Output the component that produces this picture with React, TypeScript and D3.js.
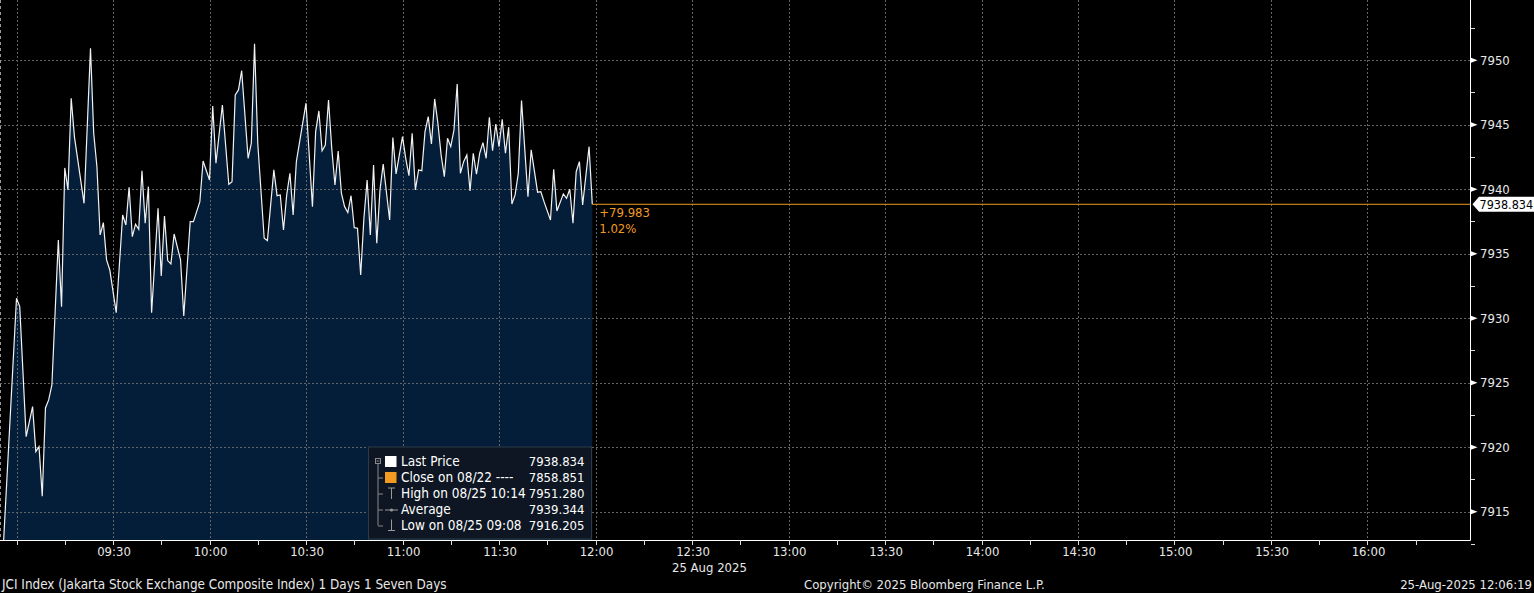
import React from "react";
import * as d3 from "d3";

// ---- data ----
const times = [
  "08:56", "09:00", "09:01", "09:03", "09:05", "09:06", "09:07", "09:08", "09:09", "09:10",
  "09:11", "09:13", "09:14", "09:15", "09:16", "09:17", "09:18", "09:21", "09:23", "09:24",
  "09:25", "09:26", "09:27", "09:28", "09:29", "09:31", "09:33", "09:34", "09:35", "09:36",
  "09:37", "09:38", "09:39", "09:40", "09:41", "09:42", "09:44", "09:45", "09:46", "09:47",
  "09:48", "09:49", "09:51", "09:52", "09:54", "09:55", "09:57", "09:58", "10:00", "10:01",
  "10:02", "10:04", "10:06", "10:07", "10:08", "10:09", "10:10", "10:12", "10:13", "10:14",
  "10:15", "10:17", "10:18", "10:20", "10:21", "10:22", "10:23", "10:24", "10:25", "10:26",
  "10:27", "10:30", "10:32", "10:33", "10:34", "10:35", "10:36", "10:37", "10:38", "10:39",
  "10:40", "10:41", "10:42", "10:43", "10:44", "10:45", "10:46", "10:47", "10:48", "10:49",
  "10:50", "10:51", "10:52", "10:53", "10:54", "10:56", "10:57", "10:58", "11:00", "11:01",
  "11:02", "11:03", "11:04", "11:05", "11:06", "11:07", "11:08", "11:09", "11:10", "11:11",
  "11:12", "11:13", "11:14", "11:15", "11:16", "11:17", "11:18", "11:19", "11:20", "11:21",
  "11:22", "11:23", "11:24", "11:25", "11:26", "11:27", "11:28", "11:29", "11:30", "11:31",
  "11:32", "11:33", "11:34", "11:35", "11:36", "11:37", "11:39", "11:40", "11:42", "11:43",
  "11:44", "11:46", "11:47", "11:48", "11:50", "11:51", "11:52", "11:53", "11:54", "11:55",
  "11:56", "11:58", "11:59",
];
const prices = [
  7912.8, 7931.55, 7930.9, 7920.82, 7923.15, 7919.66, 7920.05, 7916.21, 7923.05, 7923.67,
  7924.83, 7936.07, 7930.9, 7941.65, 7939.95, 7947.05, 7944.08, 7938.91, 7950.93, 7944.34,
  7941.75, 7936.46, 7937.41, 7934.52, 7933.74, 7930.43, 7938.01, 7937.23, 7940.16, 7936.33,
  7937.29, 7936.9, 7941.44, 7937.36, 7940.2, 7930.43, 7938.53, 7933.28, 7937.93, 7934.47,
  7934.21, 7936.53, 7934.52, 7930.18, 7937.49, 7937.49, 7939.04, 7942.19, 7940.72, 7946.46,
  7942.02, 7946.53, 7940.39, 7940.59, 7947.31, 7947.7, 7949.19, 7942.4, 7943.57, 7951.28,
  7943.57, 7936.2, 7936.02, 7941.5, 7939.5, 7939.56, 7936.84, 7939.56, 7941.24, 7938.01,
  7942.14, 7946.67, 7938.65, 7944.47, 7946.07, 7942.99, 7943.43, 7946.92, 7943.18, 7940.33,
  7942.97, 7939.69, 7938.65, 7938.19, 7939.5, 7937.02, 7936.98, 7933.36, 7937.75, 7940.72,
  7936.46, 7941.88, 7935.81, 7939.95, 7941.96, 7937.62, 7944.0, 7941.19, 7944.08, 7942.4,
  7941.05, 7944.34, 7939.95, 7941.5, 7941.44, 7944.47, 7945.63, 7943.51, 7947.0, 7945.12,
  7942.66, 7940.98, 7943.95, 7943.3, 7944.6, 7948.16, 7941.24, 7942.14, 7942.66, 7939.87,
  7942.79, 7941.16, 7942.79, 7943.61, 7942.4, 7945.58, 7942.99, 7945.06, 7943.3, 7945.43,
  7942.79, 7944.81, 7938.86, 7939.56, 7941.24, 7946.87, 7939.43, 7943.05, 7939.77, 7939.81,
  7939.04, 7937.62, 7941.55, 7938.32, 7939.64, 7939.3, 7940.0, 7937.36, 7941.36, 7942.14,
  7938.78, 7943.3, 7938.834,
];

const yTickValues = [7915, 7920, 7925, 7930, 7935, 7940, 7945, 7950];
const xLabelTimes = [
  "09:30", "10:00", "10:30", "11:00", "11:30", "12:00", "12:30",
  "13:00", "13:30", "14:00", "14:30", "15:00", "15:30", "16:00",
];
const xDomainTimes = ["08:54:52", "16:31:52"];
const yDomainValues = [7912.81, 7954.67];
const lastPrice = 7938.834;
const lastPriceLabel = "7938.834";
const netChangeLabel = "+79.983";
const pctChangeLabel = "1.02%";
const dateLabel = "25 Aug 2025";
const dateLabelAnchorTime = "12:30";

const legendLabels = [
  "Last Price",
  "Close on 08/22 ----",
  "High on 08/25 10:14",
  "Average",
  "Low on 08/25 09:08",
];
const legendValues = ["7938.834", "7858.851", "7951.280", "7939.344", "7916.205"];

const footerLeft = "JCI Index (Jakarta Stock Exchange Composite Index) 1 Days 1 Seven Days";
const footerCenter = "Copyright\u00A9 2025 Bloomberg Finance L.P.";
const footerRight = "25-Aug-2025 12:06:19";

// ---- layout ----
const W = 1534;
const H = 593;
const PLOT_L = 0;
const PLOT_R = 1470;
const PLOT_T = 0;
const PLOT_B = 540;

const FONT = "'DejaVu Sans Condensed', 'DejaVu Sans', sans-serif";
const TXT = "#e8e8e8";
const ORANGE = "#f39a22";
const GRID = "#6e6e6e";
const NAVY = "#041e3a";
const FS = 13;

const parseHM = d3.timeParse("%H:%M");
const parseHMS = d3.timeParse("%H:%M:%S");

export default function App() {
  const x = d3
    .scaleTime()
    .domain(xDomainTimes.map((t) => parseHMS(t) as Date))
    .range([PLOT_L, PLOT_R]);
  const y = d3.scaleLinear().domain(yDomainValues).range([PLOT_B, PLOT_T]);

  const data = times.map((t, i) => ({ t: parseHM(t) as Date, v: prices[i] }));

  const area = d3
    .area<{ t: Date; v: number }>()
    .x((d) => x(d.t))
    .y0(PLOT_B)
    .y1((d) => y(d.v));
  const line = d3
    .line<{ t: Date; v: number }>()
    .x((d) => x(d.t))
    .y((d) => y(d.v));

  const t0 = parseHM("09:00") as Date;
  const tEnd = parseHM("16:15") as Date;
  const minorTicks = d3.timeMinute.every(15)!.range(t0, d3.timeMinute.offset(tEnd, 1));
  const gridTimes = d3.timeMinute.every(30)!.range(t0, d3.timeMinute.offset(parseHM("16:00") as Date, 1));

  const yMinor = yTickValues.map((v) => v + 2.5).concat([yTickValues[0] - 2.5]);

  const lastX = x(data[data.length - 1].t);
  const lastY = y(lastPrice);

  // legend geometry
  const LG_X = 368.5;
  const LG_Y = 447;
  const LG_W = 223;
  const LG_H = 92;
  const rowY = (i: number) => 461.5 + i * 16;

  return (
    <svg
      width={W}
      height={H}
      style={{ position: "absolute", left: 0, top: 0, display: "block", background: "#000" }}
      fontFamily={FONT}
    >
      <rect x={0} y={0} width={W} height={H} fill="#000" />
      <defs>
        <clipPath id="plotClip">
          <rect x={PLOT_L} y={PLOT_T} width={PLOT_R - PLOT_L} height={PLOT_B - PLOT_T} />
        </clipPath>
      </defs>

      {/* area */}
      <path d={area(data) || ""} fill={NAVY} clipPath="url(#plotClip)" />

      {/* grid */}
      <g stroke={GRID} strokeWidth={1} strokeDasharray="2,2" opacity={0.9}>
        {yTickValues.map((v) => (
          <line key={"h" + v} x1={PLOT_L} x2={PLOT_R} y1={Math.round(y(v)) + 0.5} y2={Math.round(y(v)) + 0.5} />
        ))}
        {gridTimes.map((t) => (
          <line
            key={"v" + t.getTime()}
            x1={Math.round(x(t)) + 0.5}
            x2={Math.round(x(t)) + 0.5}
            y1={PLOT_T}
            y2={PLOT_B}
          />
        ))}
      </g>
      {/* left dashed border */}
      <line x1={0.5} x2={0.5} y1={0} y2={PLOT_B} stroke="#9a9a9a" strokeDasharray="3,3" />

      {/* price line */}
      <path
        d={line(data) || ""}
        fill="none"
        stroke="#f2f2f2"
        strokeWidth={1.2}
        strokeLinejoin="miter"
        clipPath="url(#plotClip)"
      />

      {/* last price orange line */}
      <line x1={lastX} x2={PLOT_R} y1={lastY} y2={lastY} stroke={ORANGE} strokeWidth={1} />
      <text x={lastX + 7} y={lastY + 13} fill={ORANGE} fontSize={FS}>
        {netChangeLabel}
      </text>
      <text x={lastX + 7} y={lastY + 29} fill={ORANGE} fontSize={FS}>
        {pctChangeLabel}
      </text>

      {/* axes */}
      <line x1={PLOT_R + 0.5} x2={PLOT_R + 0.5} y1={0} y2={PLOT_B + 0.5} stroke="#fff" strokeWidth={1} />
      <line x1={0} x2={PLOT_R + 0.5} y1={PLOT_B + 0.5} y2={PLOT_B + 0.5} stroke="#fff" strokeWidth={1} />

      {/* y ticks */}
      {yTickValues.map((v) => {
        const yy = y(v);
        return (
          <g key={"yt" + v}>
            <path d={`M${PLOT_R + 1},${yy - 2.5}L${PLOT_R + 7.5},${yy}L${PLOT_R + 1},${yy + 2.5}Z`} fill="#fff" />
            <text x={PLOT_R + 10} y={yy} dy="0.36em" fill={TXT} fontSize={FS}>
              {v}
            </text>
          </g>
        );
      })}
      {yMinor.map((v) => (
        <line
          key={"ym" + v}
          x1={PLOT_R + 1}
          x2={PLOT_R + 5}
          y1={Math.round(y(v)) + 0.5}
          y2={Math.round(y(v)) + 0.5}
          stroke="#ddd"
        />
      ))}

      {/* last price tag */}
      <path
        d={`M${PLOT_R + 2.5},${lastY}L${PLOT_R + 9},${lastY - 7.5}L${W},${lastY - 7.5}L${W},${lastY + 7.5}L${PLOT_R + 9},${lastY + 7.5}Z`}
        fill="#fff"
      />
      <text x={PLOT_R + 9.5} y={lastY} dy="0.36em" fill="#000" fontSize={12.5}>
        {lastPriceLabel}
      </text>

      {/* x ticks */}
      {minorTicks.map((t) => (
        <line
          key={"xt" + t.getTime()}
          x1={Math.round(x(t)) + 0.5}
          x2={Math.round(x(t)) + 0.5}
          y1={PLOT_B}
          y2={PLOT_B + 5}
          stroke="#ddd"
        />
      ))}
      {xLabelTimes.map((s) => {
        const t = parseHM(s) as Date;
        return (
          <text key={"xl" + s} x={x(t) + 1} y={555.5} textAnchor="middle" fill={TXT} fontSize={FS}>
            {s}
          </text>
        );
      })}
      <text x={x(parseHM(dateLabelAnchorTime) as Date) - 20} y={572} fill={TXT} fontSize={FS}>
        {dateLabel}
      </text>

      {/* legend */}
      <g>
        <rect x={LG_X} y={LG_Y} width={LG_W} height={LG_H} fill="#0d1622" stroke="#2f3a48" strokeWidth={1} />
        {/* tree */}
        <rect x={375.5} y={458.5} width={5} height={5} fill="none" stroke="#8a8a8a" strokeWidth={1} />
        <line x1={376.5} x2={379.5} y1={461} y2={461} stroke="#8a8a8a" />
        <line x1={378} x2={378} y1={464} y2={rowY(4)} stroke="#8a8a8a" />
        {[1, 2, 3, 4].map((i) => (
          <line key={"tb" + i} x1={378} x2={383} y1={rowY(i) + 0.5} y2={rowY(i) + 0.5} stroke="#8a8a8a" />
        ))}
        {/* icons */}
        <rect x={385} y={rowY(0) - 5.5} width={11.5} height={11} fill="#fff" />
        <rect x={385} y={rowY(1) - 5.5} width={11.5} height={11} fill={ORANGE} />
        <line x1={388} x2={395} y1={rowY(2) - 5.5} y2={rowY(2) - 5.5} stroke="#9a9a9a" />
        <line x1={391.5} x2={391.5} y1={rowY(2) - 5.5} y2={rowY(2) + 5.5} stroke="#9a9a9a" />
        <line x1={385} x2={398} y1={rowY(3) + 0.5} y2={rowY(3) + 0.5} stroke="#9a9a9a" />
        <circle cx={391.5} cy={rowY(3) + 0.5} r={1.6} fill="#9a9a9a" />
        <line x1={391.5} x2={391.5} y1={rowY(4) - 6} y2={rowY(4) + 5} stroke="#9a9a9a" />
        <line x1={388} x2={395} y1={rowY(4) + 5} y2={rowY(4) + 5} stroke="#9a9a9a" />
        {legendLabels.map((s, i) => (
          <text key={"ll" + i} x={401} y={rowY(i)} dy="0.36em" fill="#fff" fontSize={13.5}>
            {s}
          </text>
        ))}
        {legendValues.map((s, i) => (
          <text key={"lv" + i} x={584.5} y={rowY(i)} dy="0.36em" textAnchor="end" fill="#fff" fontSize={13}>
            {s}
          </text>
        ))}
      </g>

      {/* footer */}
      <text x={2} y={588.5} fill={TXT} fontSize={13.4}>
        {footerLeft}
      </text>
      <text x={804} y={588.5} fill={TXT} fontSize={FS}>
        {footerCenter}
      </text>
      <text x={1532} y={588.5} textAnchor="end" fill={TXT} fontSize={FS}>
        {footerRight}
      </text>
    </svg>
  );
}
